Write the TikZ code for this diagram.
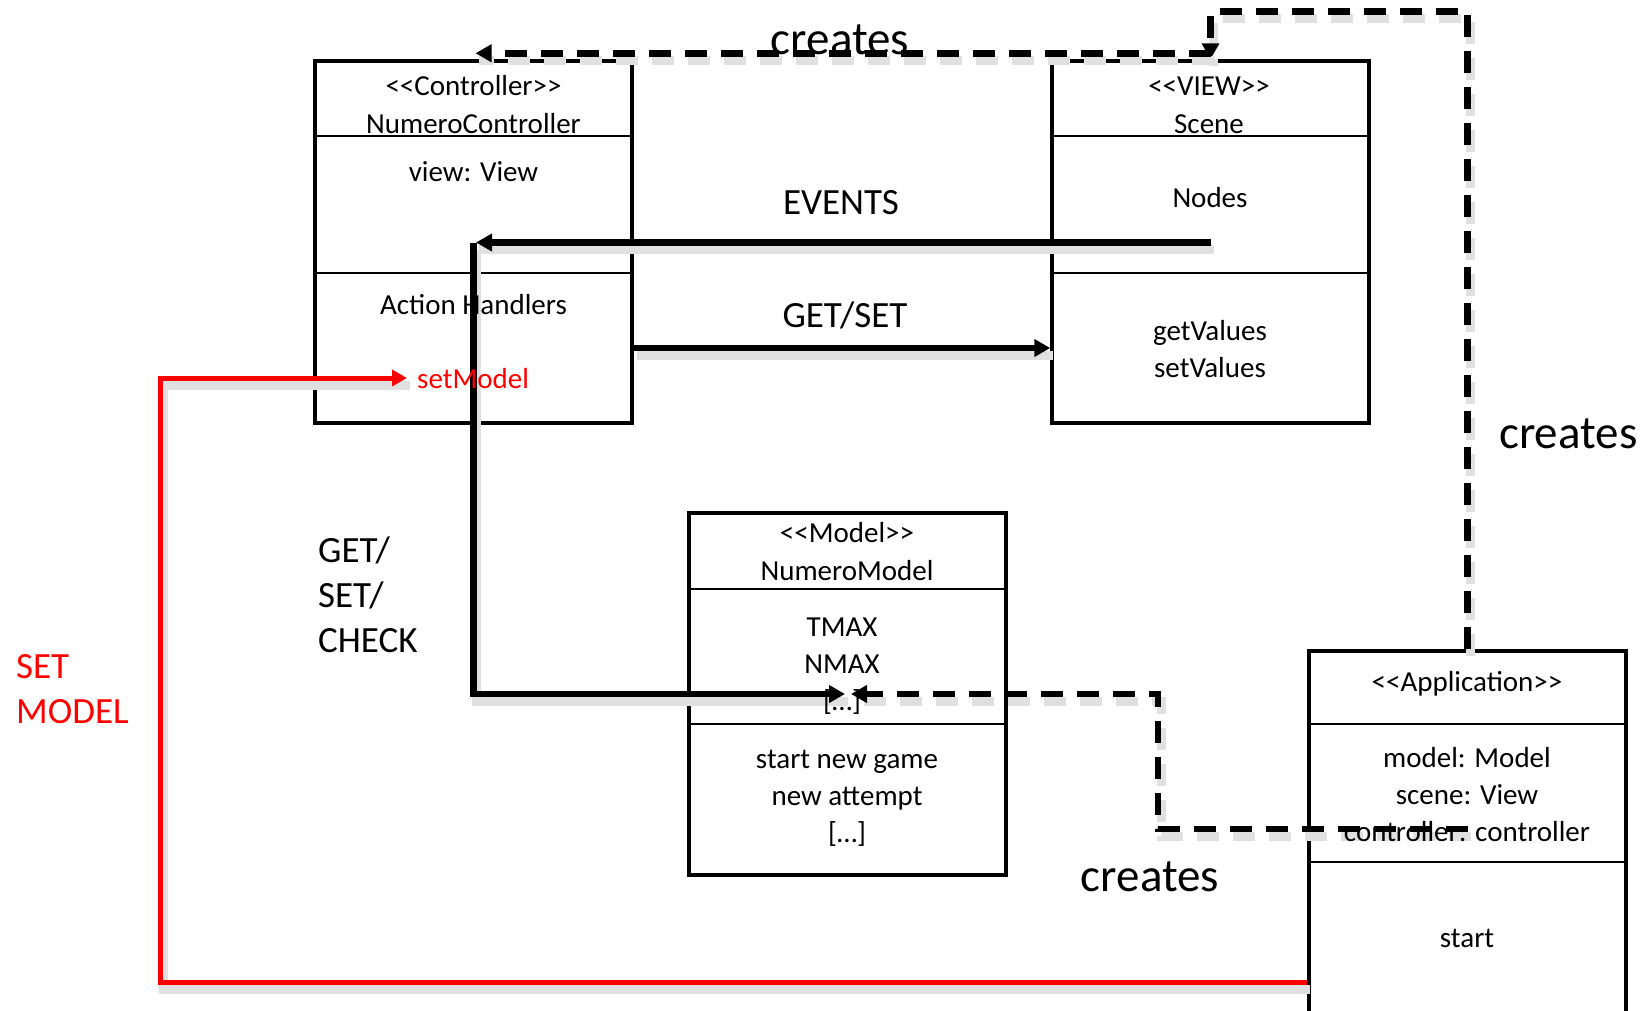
\documentclass[tikz,border=0pt]{standalone}
\usepackage{fontspec}
\setmainfont{Carlito}
\usetikzlibrary{arrows.meta}
\newcommand\dlt{<\kern0pt<}
\newcommand\dgt{>\kern0pt>}
\begin{document}
\begin{tikzpicture}[x=1pt,y=-1pt,
  box/.style={draw, line width=3.5pt, minimum width=317pt, inner sep=0pt},
  divider/.style={line width=2pt},
  boxtxt/.style={font=\fontsize{29}{37}\selectfont, align=center, inner sep=0pt},
  lbl/.style={font=\fontsize{37}{45}\selectfont, align=left, inner sep=0pt},
  biglbl/.style={font=\fontsize{47}{56}\selectfont, inner sep=0pt},
  shade/.style={preaction={draw=black!12, line width=9pt, transform canvas={shift={(3pt,-7pt)}}, arrows=-}},
  dshade/.style={preaction={draw=black!12, line width=9pt, dash pattern=on 22pt off 14pt, transform canvas={shift={(3pt,-7pt)}}, arrows=-}},
  conn/.style={line width=6.5pt, shade},
  dconn/.style={line width=6.5pt, dash pattern=on 22pt off 14pt, dshade},
  redconn/.style={line width=5pt, draw=red, shade},
  tip/.style={-{Triangle[length=16pt,width=17pt]}},
  redtip/.style={-{Triangle[length=15pt,width=16pt]}},
]
\path[use as bounding box] (0,0) rectangle (1646,1010);
\clip (0,0) rectangle (1646,1010);

% boxes
\node[box, minimum height=362pt] (ctrl) at (473.5,242) {};
\node[box, minimum height=362pt] (view) at (1210.5,242) {};
\node[box, minimum height=362pt] (model) at (847.5,694) {};
\node[box, minimum height=372pt] (app) at (1467.5,837) {};

\draw[divider] (ctrl.west |- 0,136) -- (ctrl.east |- 0,136);
\draw[divider] (ctrl.west |- 0,273) -- (ctrl.east |- 0,273);
\draw[divider] (view.west |- 0,136) -- (view.east |- 0,136);
\draw[divider] (view.west |- 0,273) -- (view.east |- 0,273);
\draw[divider] (model.west |- 0,589) -- (model.east |- 0,589);
\draw[divider] (model.west |- 0,724) -- (model.east |- 0,724);
\draw[divider] (app.west |- 0,724) -- (app.east |- 0,724);
\draw[divider] (app.west |- 0,862) -- (app.east |- 0,862);

% connector points
\coordinate (evS) at (view.center |- 0,242.5);
\coordinate (evE) at (476,242.5);
\coordinate (gscS) at (ctrl.center |- 0,242.5);
\coordinate (gscE) at (845,694);
\coordinate (cmS) at (app.center |- 0,829);
\coordinate (cmK) at (1158,694);
\coordinate (cmE) at (851,694);
\coordinate (smS) at (app.west |- 0,982.5);
\coordinate (smK) at (160,378);
\coordinate (smE) at (407,378);

% connectors
\draw[dconn, tip] (app.north) -- ++(0,-638) -| (view.north);
\draw[dconn, tip] ([yshift=6pt]view.north) -- ([yshift=6pt, xshift=2pt]ctrl.north);
\draw[conn, tip] (evS) -- (evE);
\draw[conn, tip] (gscS) |- (gscE);
\draw[conn, tip] (ctrl.east |- 0,348) -- (view.west |- 0,348);
\draw[dconn, tip] (cmS) -| (cmK) -- (cmE);
\draw[redconn, redtip] (smS) -| (smK) -- (smE);

% box texts
\node[boxtxt] (ctrlhead) at (473.5,105) {\dlt Controller\dgt\\[1pt]NumeroController};
\node[boxtxt] (ctrlattr) at (473.5,172) {view: View};
\node[boxtxt] (ctrlops) at (473.5,305) {Action Handlers};
\node[boxtxt, text=red, anchor=west] (setmodel) at (417,379) {setModel};

\node[boxtxt] (viewhead) at (1209,105) {\dlt VIEW\dgt\\[1pt]Scene};
\node[boxtxt] (viewattr) at (1210,198) {Nodes};
\node[boxtxt] (viewops) at (1210,349) {getValues\\setValues};

\node[boxtxt] (modelhead) at (847,552) {\dlt Model\dgt\\[1pt]NumeroModel};
\node[boxtxt] (modelattr) at (842,666) {TMAX\\NMAX\\{[}…{]}};
\node[boxtxt] (modelops) at (847,798) {start new game\\new attempt\\{[}…{]}};

\node[boxtxt] (apphead) at (1467,684) {\dlt Application\dgt};
\node[boxtxt] (appattr) at (1467,795) {model: Model\\scene: View\\controller: controller};
\node[boxtxt] (appops) at (1467,938) {start};

% labels
\node[biglbl] (lcreates1) at (840,40) {creates};
\node[biglbl, anchor=west] (lcreates2) at (1499,434) {creates};
\node[biglbl] (lcreates3) at (1150,877) {creates};
\node[lbl] (levents) at (841,203) {EVENTS};
\node[lbl] (lgetset) at (845,315) {GET/SET};
\node[lbl, anchor=west] (lgsc) at (318,595) {GET/\\SET/\\CHECK};
\node[lbl, anchor=west, text=red] (lsetmodel) at (16,689.5) {SET\\MODEL};
\end{tikzpicture}
\end{document}
